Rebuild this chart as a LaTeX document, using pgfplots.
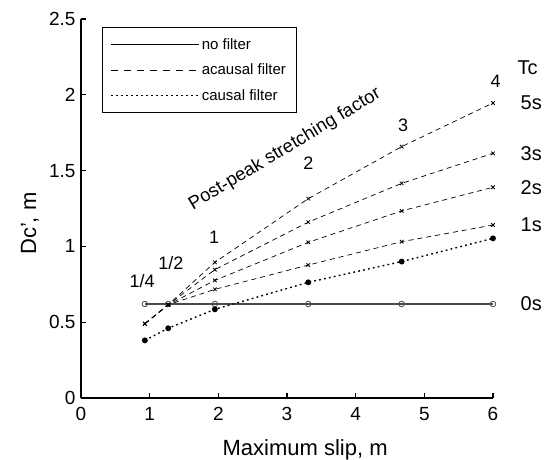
\documentclass[border=0pt]{standalone}
\usepackage{pgfplots}
\pgfplotsset{compat=1.18}
\usepackage{fontspec}
\setmainfont{Liberation Sans}
\definecolor{nofilt}{HTML}{4A4A4A}
\pgfplotstableread{
x nof caus t1 t2 t3 t5
0.93 0.62 0.38 0.49 0.49 0.49 0.49
1.27 0.62 0.46 0.615 0.615 0.615 0.615
1.95 0.62 0.585 0.717 0.776 0.847 0.895
3.31 0.62 0.763 0.877 1.027 1.16 1.315
4.67 0.62 0.90 1.031 1.234 1.416 1.658
6.00 0.62 1.053 1.141 1.39 1.614 1.946
}\datatab
\begin{document}
\begin{tikzpicture}
\useasboundingbox (-81pt,-62pt) rectangle (470pt,398pt);
\begin{axis}[
  at={(0,0)}, anchor=south west,
  scale only axis, width=412pt, height=379pt,
  xmin=0, xmax=6, ymin=0, ymax=2.5,
  axis lines*=left,
  axis line style={line width=1.2pt},
  tick align=inside,
  major tick length=5pt,
  tick style={line width=1.2pt, black},
  xtick={0,1,2,3,4,5,6},
  ytick={0,0.5,1,1.5,2,2.5},
  yticklabels={0,0.5,1,1.5,2,2.5},
  /pgf/number format/assume math mode=true,
  xticklabel style={font=\fontsize{19}{21}\selectfont, yshift=-6pt},
  yticklabel style={font=\fontsize{19}{21}\selectfont, xshift=-2pt},
  clip=false,
  xlabel={Maximum slip, m},
  ylabel={Dc', m},
  every axis x label/.style={at={(axis description cs:0.544,-0.138)}, anchor=center, font=\fontsize{22}{24}\selectfont},
  every axis y label/.style={at={(axis description cs:-0.124,0.46)}, rotate=90, anchor=center, font=\fontsize{22}{24}\selectfont},
  legend style={at={(axis cs:0.306,2.447)}, anchor=north west,
    font=\fontsize{15}{17}\selectfont, draw=black, line width=0.8pt,
    inner xsep=8pt, inner ysep=9pt, row sep=9pt},
  legend cell align=left,
  legend image code/.code={\draw[#1] (0pt,0pt) -- (80pt,0pt); \path (0pt,0pt) -- (88pt,0pt);},
]
\addlegendimage{black, line width=0.8pt}
\addlegendentry{no filter}
\addlegendimage{black, line width=0.8pt, dash pattern=on 7pt off 6pt}
\addlegendentry{acausal filter}
\addlegendimage{black, line width=1.4pt, dash pattern=on 2pt off 3pt}
\addlegendentry{causal filter~~~}

\addplot[forget plot, nofilt, line width=1.2pt, mark=o, mark size=2.8pt, mark options={solid, line width=0.8pt, fill=white}] table[x=x, y=nof] {\datatab};
\addplot[forget plot, black, line width=1.4pt, dash pattern=on 1.8pt off 3.2pt, mark=*, mark size=2.2pt, mark options={solid}] table[x=x, y=caus] {\datatab};
\addplot[forget plot, black, line width=0.7pt, dash pattern=on 5pt off 4pt, mark=x, mark size=2.5pt, mark options={solid, line width=0.8pt}] table[x=x, y=t1] {\datatab};
\addplot[forget plot, black, line width=0.7pt, dash pattern=on 5pt off 4pt, mark=x, mark size=2.5pt, mark options={solid, line width=0.8pt}] table[x=x, y=t2] {\datatab};
\addplot[forget plot, black, line width=0.7pt, dash pattern=on 5pt off 4pt, mark=x, mark size=2.5pt, mark options={solid, line width=0.8pt}] table[x=x, y=t3] {\datatab};
\addplot[forget plot, black, line width=0.7pt, dash pattern=on 5pt off 4pt, mark=x, mark size=2.5pt, mark options={solid, line width=0.8pt}] table[x=x, y=t5] {\datatab};

\begin{scope}[every node/.style={font=\fontsize{18}{20}\selectfont}]
\node at (axis cs:0.89,0.77) {1/4};
\node at (axis cs:1.31,0.89) {1/2};
\node at (axis cs:1.94,1.06) {1};
\node at (axis cs:3.31,1.55) {2};
\node at (axis cs:4.69,1.80) {3};
\node at (axis cs:6.04,2.09) {4};
\node[rotate=31, font=\fontsize{18.5}{20}\selectfont] at (axis cs:2.97,1.64) {Post-peak stretching factor};
\end{scope}
\begin{scope}[every node/.style={font=\fontsize{20}{22}\selectfont, inner sep=0pt, anchor=west}]
\node at (axis cs:6.355,2.177) {Tc};
\node at (axis cs:6.40,1.946) {5s};
\node at (axis cs:6.40,1.614) {3s};
\node at (axis cs:6.40,1.39) {2s};
\node at (axis cs:6.40,1.141) {1s};
\node at (axis cs:6.40,0.62) {0s};
\end{scope}
\end{axis}
\end{tikzpicture}
\end{document}
